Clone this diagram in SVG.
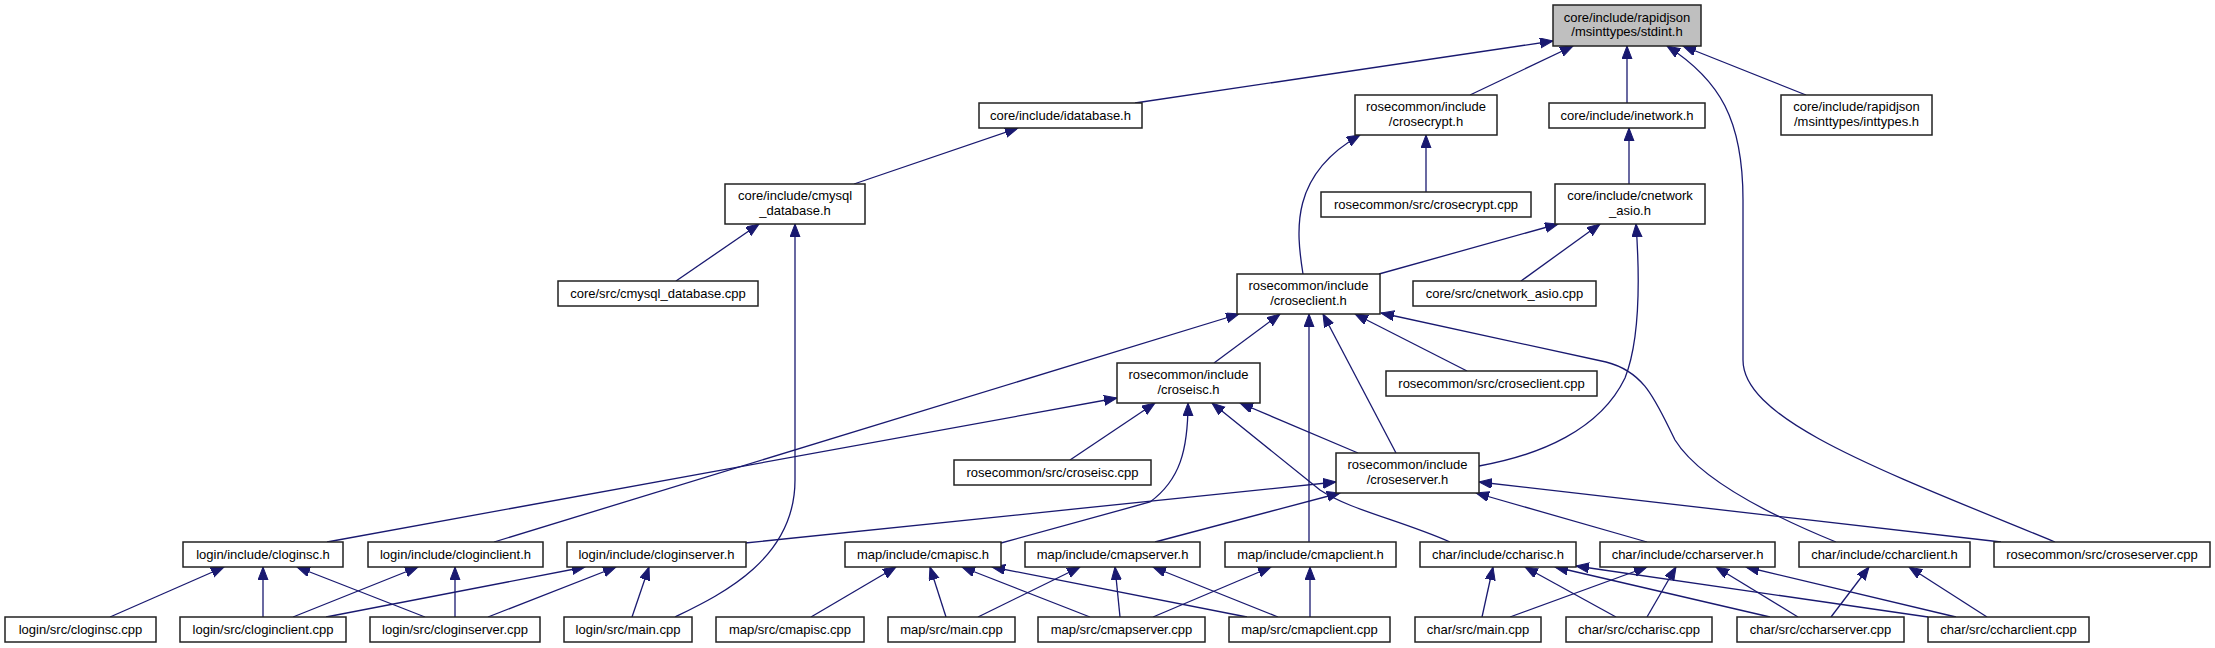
<svg xmlns="http://www.w3.org/2000/svg" width="2215" height="648" viewBox="0 0 2215 648">
<style>
.n rect{fill:#fff;stroke:#222;stroke-width:1.5}
.n text{font-family:"Liberation Sans",Arial,sans-serif;font-size:13px;fill:#000;text-anchor:middle}
.root rect{fill:#bfbfbf}
.e path{fill:none;stroke:#191970;stroke-width:1.3;marker-end:url(#ah)}
</style>
<defs>
<marker id="ah" markerUnits="userSpaceOnUse" markerWidth="14" markerHeight="11" refX="13" refY="5" orient="auto">
<path d="M0,0 L13,5 L0,10 z" fill="#191970" stroke="#191970" stroke-width="1"/>
</marker>
</defs>
<rect width="2215" height="648" fill="#fff"/>
<g id="edges" class="e">
<path d="M1135,103 L1553,41"/>
<path d="M1470,95 L1573,46"/>
<path d="M1627,103 L1627,46"/>
<path d="M2055,542 C1880,470 1743,420 1743,360 L1743,200 C1743,120 1720,80 1667,46"/>
<path d="M1806,95 L1683,46"/>
<path d="M854,184 L1018,128"/>
<path d="M676,281 L759,224"/>
<path d="M675,617 C720,595 795,560 795,480 L795,224"/>
<path d="M1426,192 L1426,135"/>
<path d="M1303,274 C1296,230 1290,175 1360,135"/>
<path d="M1629,184 L1629,128"/>
<path d="M1379,274 L1558,224"/>
<path d="M1521,281 L1600,224"/>
<path d="M1479,466 C1540,455 1600,430 1625,378 C1640,340 1640,280 1636,224"/>
<path d="M494,542 L1239,314"/>
<path d="M1214,363 L1280,314"/>
<path d="M1309,542 L1309,314"/>
<path d="M1396,453 L1323,314"/>
<path d="M1467,371 L1355,314"/>
<path d="M1836,542 C1770,515 1700,480 1675,440 C1655,400 1645,372 1606,362 L1381,313"/>
<path d="M327,542 L1117,398"/>
<path d="M1070,460 L1155,403"/>
<path d="M1001,543 L1150,502 C1180,480 1188,450 1188,403"/>
<path d="M1358,453 L1240,403"/>
<path d="M1450,542 C1400,520 1350,510 1320,490 L1212,403"/>
<path d="M745,543 L1336,482"/>
<path d="M1155,542 L1340,493"/>
<path d="M1647,542 L1476,493"/>
<path d="M2001,542 L1479,482"/>
<path d="M110,617 L224,567"/>
<path d="M263,617 L263,567"/>
<path d="M425,617 L297,567"/>
<path d="M293,617 L418,567"/>
<path d="M455,617 L455,567"/>
<path d="M326,617 L585,567"/>
<path d="M488,617 L616,567"/>
<path d="M632,617 L649,567"/>
<path d="M811,617 L896,567"/>
<path d="M946,617 L930,567"/>
<path d="M1090,617 L962,567"/>
<path d="M1247,617 L992,567"/>
<path d="M978,617 L1080,567"/>
<path d="M1120,617 L1115,567"/>
<path d="M1278,617 L1153,567"/>
<path d="M1153,617 L1271,567"/>
<path d="M1310,617 L1310,567"/>
<path d="M1482,617 L1493,567"/>
<path d="M1616,617 L1525,567"/>
<path d="M1770,617 L1555,567"/>
<path d="M1928,617 L1576,566"/>
<path d="M1510,617 L1647,567"/>
<path d="M1647,617 L1676,567"/>
<path d="M1798,617 L1716,567"/>
<path d="M1956,617 L1746,567"/>
<path d="M1831,617 L1869,567"/>
<path d="M1987,617 L1909,567"/>
</g>
<g id="n_stdint" class="n root"><rect x="1553" y="5" width="148" height="41"/><text x="1627" y="21.5">core/include/rapidjson</text><text x="1627" y="36">/msinttypes/stdint.h</text></g>
<g id="n_idatabase" class="n"><rect x="979" y="103" width="163" height="25"/><text x="1060.5" y="119.5">core/include/idatabase.h</text></g>
<g id="n_crosecrypt_h" class="n"><rect x="1355" y="95" width="142" height="40"/><text x="1426" y="111">rosecommon/include</text><text x="1426" y="125.5">/crosecrypt.h</text></g>
<g id="n_inetwork" class="n"><rect x="1549" y="103" width="156" height="25"/><text x="1627" y="119.5">core/include/inetwork.h</text></g>
<g id="n_inttypes" class="n"><rect x="1781" y="95" width="151" height="40"/><text x="1856.5" y="111">core/include/rapidjson</text><text x="1856.5" y="125.5">/msinttypes/inttypes.h</text></g>
<g id="n_cmysql_h" class="n"><rect x="725" y="184" width="140" height="40"/><text x="795" y="200">core/include/cmysql</text><text x="795" y="214.5">_database.h</text></g>
<g id="n_crosecrypt_cpp" class="n"><rect x="1321" y="192" width="210" height="25"/><text x="1426" y="208.5">rosecommon/src/crosecrypt.cpp</text></g>
<g id="n_cnetwork_h" class="n"><rect x="1555" y="184" width="150" height="40"/><text x="1630" y="200">core/include/cnetwork</text><text x="1630" y="214.5">_asio.h</text></g>
<g id="n_cmysql_cpp" class="n"><rect x="558" y="281" width="200" height="25"/><text x="658" y="297.5">core/src/cmysql_database.cpp</text></g>
<g id="n_croseclient_h" class="n"><rect x="1237" y="274" width="143" height="40"/><text x="1308.5" y="290">rosecommon/include</text><text x="1308.5" y="304.5">/croseclient.h</text></g>
<g id="n_cnetwork_cpp" class="n"><rect x="1413" y="281" width="183" height="25"/><text x="1504.5" y="297.5">core/src/cnetwork_asio.cpp</text></g>
<g id="n_croseisc_h" class="n"><rect x="1117" y="363" width="143" height="40"/><text x="1188.5" y="379">rosecommon/include</text><text x="1188.5" y="393.5">/croseisc.h</text></g>
<g id="n_croseclient_cpp" class="n"><rect x="1386" y="371" width="211" height="25"/><text x="1491.5" y="387.5">rosecommon/src/croseclient.cpp</text></g>
<g id="n_croseisc_cpp" class="n"><rect x="954" y="460" width="197" height="25"/><text x="1052.5" y="476.5">rosecommon/src/croseisc.cpp</text></g>
<g id="n_croseserver_h" class="n"><rect x="1336" y="453" width="143" height="40"/><text x="1407.5" y="469">rosecommon/include</text><text x="1407.5" y="483.5">/croseserver.h</text></g>
<g id="n_cloginsc_h" class="n"><rect x="183" y="542" width="160" height="25"/><text x="263" y="558.5">login/include/cloginsc.h</text></g>
<g id="n_cloginclient_h" class="n"><rect x="368" y="542" width="175" height="25"/><text x="455.5" y="558.5">login/include/cloginclient.h</text></g>
<g id="n_cloginserver_h" class="n"><rect x="567" y="542" width="179" height="25"/><text x="656.5" y="558.5">login/include/cloginserver.h</text></g>
<g id="n_cmapisc_h" class="n"><rect x="845" y="542" width="156" height="25"/><text x="923" y="558.5">map/include/cmapisc.h</text></g>
<g id="n_cmapserver_h" class="n"><rect x="1025" y="542" width="175" height="25"/><text x="1112.5" y="558.5">map/include/cmapserver.h</text></g>
<g id="n_cmapclient_h" class="n"><rect x="1225" y="542" width="171" height="25"/><text x="1310.5" y="558.5">map/include/cmapclient.h</text></g>
<g id="n_ccharisc_h" class="n"><rect x="1420" y="542" width="156" height="25"/><text x="1498" y="558.5">char/include/ccharisc.h</text></g>
<g id="n_ccharserver_h" class="n"><rect x="1600" y="542" width="175" height="25"/><text x="1687.5" y="558.5">char/include/ccharserver.h</text></g>
<g id="n_ccharclient_h" class="n"><rect x="1799" y="542" width="171" height="25"/><text x="1884.5" y="558.5">char/include/ccharclient.h</text></g>
<g id="n_croseserver_cpp" class="n"><rect x="1994" y="542" width="216" height="25"/><text x="2102" y="558.5">rosecommon/src/croseserver.cpp</text></g>
<g id="n_cloginsc_cpp" class="n"><rect x="5" y="617" width="151" height="25"/><text x="80.5" y="633.5">login/src/cloginsc.cpp</text></g>
<g id="n_cloginclient_cpp" class="n"><rect x="180" y="617" width="166" height="25"/><text x="263" y="633.5">login/src/cloginclient.cpp</text></g>
<g id="n_cloginserver_cpp" class="n"><rect x="370" y="617" width="170" height="25"/><text x="455" y="633.5">login/src/cloginserver.cpp</text></g>
<g id="n_login_main" class="n"><rect x="564" y="617" width="128" height="25"/><text x="628" y="633.5">login/src/main.cpp</text></g>
<g id="n_cmapisc_cpp" class="n"><rect x="716" y="617" width="148" height="25"/><text x="790" y="633.5">map/src/cmapisc.cpp</text></g>
<g id="n_map_main" class="n"><rect x="888" y="617" width="127" height="25"/><text x="951.5" y="633.5">map/src/main.cpp</text></g>
<g id="n_cmapserver_cpp" class="n"><rect x="1038" y="617" width="167" height="25"/><text x="1121.5" y="633.5">map/src/cmapserver.cpp</text></g>
<g id="n_cmapclient_cpp" class="n"><rect x="1229" y="617" width="161" height="25"/><text x="1309.5" y="633.5">map/src/cmapclient.cpp</text></g>
<g id="n_char_main" class="n"><rect x="1415" y="617" width="126" height="25"/><text x="1478" y="633.5">char/src/main.cpp</text></g>
<g id="n_ccharisc_cpp" class="n"><rect x="1566" y="617" width="146" height="25"/><text x="1639" y="633.5">char/src/ccharisc.cpp</text></g>
<g id="n_ccharserver_cpp" class="n"><rect x="1737" y="617" width="167" height="25"/><text x="1820.5" y="633.5">char/src/ccharserver.cpp</text></g>
<g id="n_ccharclient_cpp" class="n"><rect x="1928" y="617" width="161" height="25"/><text x="2008.5" y="633.5">char/src/ccharclient.cpp</text></g>
</svg>
